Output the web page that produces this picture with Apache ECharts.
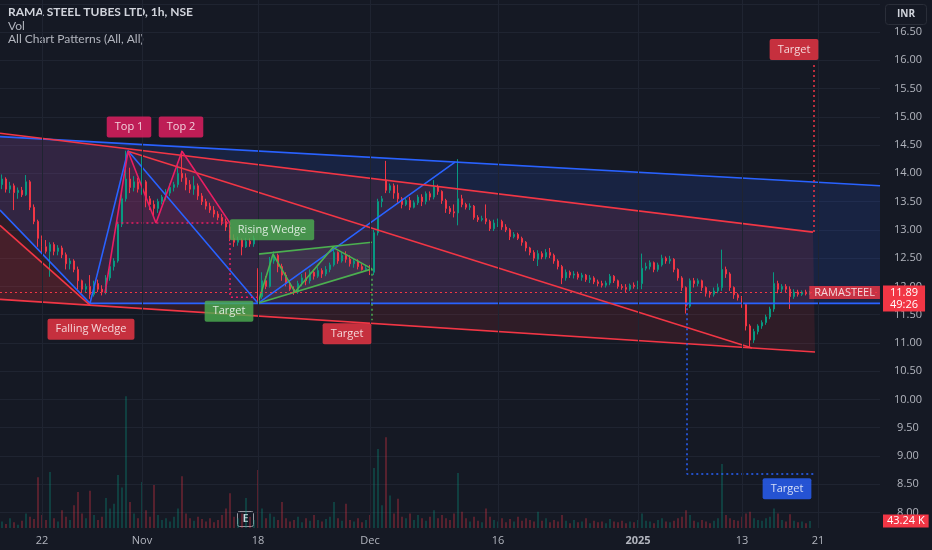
<!DOCTYPE html>
<html>
<head>
<meta charset="utf-8">
<title>RAMA STEEL TUBES LTD, 1h, NSE</title>
<script src="https://cdn.jsdelivr.net/npm/echarts@6/dist/echarts.min.js"></script>
<style>
html, body { margin: 0; padding: 0; background: #151924; }
#chart { width: 932px; height: 550px; }
</style>
</head>
<body>
<div id="chart"></div>
<script>
// one slot = one bar on the time scale (room on the right for the targets)
var SLOTS = 220;

// time scale labels [slot, text]
var dateTicks = [[10, '22'], [35, 'Nov'], [64, '18'], [92, 'Dec'], [124, '16'], [159, '2025'], [185, '13'], [204, '21']];

// bars: [open, close, low, high]
var candles = [
    [13.80,13.90,13.72,13.98],[13.90,13.72,13.66,13.93],[13.72,13.78,13.65,13.85],[13.78,13.66,13.35,13.82],[13.66,13.70,13.55,13.75],
    [13.70,13.62,13.58,13.76],[13.62,13.85,13.60,13.97],[13.85,13.40,13.35,13.88],[13.40,13.15,13.10,13.45],[13.15,12.85,12.70,13.18],
    [12.85,12.70,12.60,12.90],[12.70,12.62,12.58,12.82],[12.62,12.74,12.17,12.78],[12.74,12.62,12.55,12.78],[12.62,12.68,12.55,12.73],
    [12.68,12.56,12.50,12.72],[12.56,12.40,12.30,12.60],[12.40,12.45,12.30,12.50],[12.45,12.30,12.25,12.48],[12.30,12.10,11.95,12.35],
    [12.10,11.95,11.90,12.12],[11.95,12.00,11.90,12.05],[12.00,11.86,11.78,12.20],[11.86,12.05,11.82,12.10],[12.05,11.95,11.90,12.12],
    [11.95,11.90,11.84,12.02],[11.90,12.15,11.86,12.20],[12.15,12.35,12.10,12.42],[12.35,12.45,12.28,12.50],[12.45,13.10,12.42,13.15],
    [13.10,13.55,13.05,13.65],[13.55,13.90,13.50,14.40],[13.90,13.75,13.65,14.10],[13.75,13.85,13.68,13.95],[13.85,13.72,13.66,13.92],
    [13.72,13.85,13.62,14.30],[13.85,13.55,13.40,13.88],[13.55,13.45,13.35,13.60],[13.45,13.38,13.22,13.52],[13.38,13.50,13.30,13.55],
    [13.50,13.58,13.45,13.62],[13.58,13.65,13.52,13.72],[13.65,13.75,13.60,13.82],[13.75,13.80,13.68,13.85],[13.80,14.00,13.75,14.20],
    [14.00,13.92,13.85,14.40],[13.92,13.80,13.70,14.00],[13.80,13.72,13.65,13.88],[13.72,13.78,13.62,13.95],[13.78,13.60,13.53,13.82],
    [13.60,13.50,13.44,13.65],[13.50,13.42,13.36,13.55],[13.42,13.35,13.30,13.48],[13.35,13.28,13.22,13.42],[13.28,13.22,13.17,13.33],
    [13.22,13.15,13.08,13.28],[13.15,13.05,12.98,13.20],[13.05,12.85,12.80,13.10],[12.85,12.78,12.70,12.92],[12.78,12.82,12.72,12.88],
    [12.82,12.70,12.55,12.85],[12.70,12.80,12.68,12.86],[12.80,12.75,12.70,12.85],[12.75,12.85,12.70,12.90],[12.30,11.82,11.72,12.32],
    [11.82,12.10,11.78,12.25],[12.10,12.00,11.95,12.18],[12.00,12.45,11.98,12.52],[12.45,12.55,12.40,12.62],[12.55,12.35,12.25,12.58],
    [12.35,12.20,12.10,12.40],[12.20,12.05,12.00,12.25],[12.05,11.95,11.92,12.10],[11.95,11.90,11.85,12.00],[11.90,12.05,11.87,12.10],
    [12.05,12.15,12.00,12.22],[12.15,12.10,12.02,12.25],[12.10,12.25,12.05,12.30],[12.25,12.18,12.12,12.30],[12.18,12.28,12.15,12.34],
    [12.28,12.22,12.15,12.32],[12.22,12.30,12.18,12.36],[12.30,12.38,12.25,12.42],[12.38,12.60,12.35,12.66],[12.60,12.45,12.40,12.62],
    [12.45,12.55,12.42,12.60],[12.55,12.48,12.42,12.62],[12.48,12.40,12.35,12.55],[12.40,12.45,12.33,12.50],[12.45,12.35,12.30,12.48],
    [12.35,12.30,12.28,12.40],[12.30,12.32,12.27,12.36],[12.32,12.25,12.20,12.38],[12.25,12.95,12.20,13.00],[12.95,13.50,12.90,13.55],
    [13.50,13.55,13.40,13.60],[13.88,13.70,13.65,14.22],[13.70,13.78,13.65,13.82],[13.78,13.65,13.55,13.82],[13.65,13.55,13.48,13.80],
    [13.55,13.45,13.38,13.58],[13.45,13.52,13.42,13.56],[13.52,13.40,13.35,13.58],[13.40,13.48,13.38,13.52],[13.48,13.58,13.44,13.62],
    [13.58,13.50,13.42,13.63],[13.50,13.64,13.45,13.68],[13.64,13.58,13.52,13.68],[13.58,13.76,13.54,13.88],[13.76,13.68,13.62,13.80],
    [13.68,13.52,13.46,13.70],[13.52,13.38,13.30,13.55],[13.38,13.32,13.28,13.42],[13.32,13.30,13.22,13.45],[13.30,13.55,13.08,14.25],
    [13.55,13.45,13.40,13.62],[13.45,13.40,13.36,13.48],[13.40,13.42,13.35,13.47],[13.42,13.22,13.18,13.44],[13.22,13.18,13.14,13.26],
    [13.18,13.20,13.15,13.25],[13.20,13.15,13.10,13.45],[13.15,13.02,12.98,13.18],[13.02,13.12,12.98,13.18],[13.12,13.15,13.05,13.20],
    [13.15,13.05,13.00,13.18],[13.05,13.00,12.96,13.10],[13.00,12.88,12.82,13.03],[12.88,12.92,12.85,12.96],[12.92,12.85,12.82,12.95],
    [12.85,12.78,12.72,12.88],[12.78,12.68,12.62,12.80],[12.68,12.60,12.55,12.70],[12.60,12.50,12.45,12.64],[12.48,12.58,12.36,12.64],
    [12.58,12.52,12.48,12.62],[12.52,12.60,12.48,12.66],[12.60,12.55,12.50,12.68],[12.55,12.45,12.40,12.58],[12.45,12.35,12.30,12.48],
    [12.35,12.15,12.04,12.38],[12.15,12.25,12.10,12.30],[12.25,12.20,12.15,12.28],[12.20,12.22,12.14,12.27],[12.22,12.16,12.12,12.26],
    [12.16,12.20,12.10,12.24],[12.20,12.12,12.08,12.22],[12.12,12.15,12.06,12.20],[12.15,12.08,12.04,12.18],[12.08,12.05,12.00,12.12],
    [12.05,12.02,11.98,12.10],[12.02,12.06,11.98,12.10],[12.06,12.18,12.02,12.22],[12.18,12.10,12.06,12.20],[12.10,12.00,11.96,12.12],
    [12.00,11.98,11.94,12.04],[11.98,11.95,11.90,12.04],[11.95,12.02,11.92,12.05],[12.02,12.00,11.96,12.07],[12.00,12.05,11.95,12.10],
    [12.05,12.32,11.95,12.58],[12.32,12.35,12.28,12.42],[12.35,12.42,12.30,12.46],[12.42,12.30,12.25,12.44],[12.30,12.38,12.26,12.42],
    [12.38,12.50,12.35,12.56],[12.50,12.45,12.40,12.53],[12.45,12.48,12.40,12.54],[12.48,12.30,12.25,12.50],[12.30,12.15,12.10,12.32],
    [12.15,11.98,11.92,12.18],[11.98,11.65,11.52,12.00],[11.65,12.10,11.62,12.14],[12.10,12.05,11.98,12.15],[12.05,12.10,12.00,12.14],
    [12.10,11.98,11.92,12.12],[11.98,11.88,11.82,12.00],[11.88,11.86,11.80,11.92],[11.86,11.92,11.82,11.98],[11.92,11.98,11.88,12.05],
    [11.98,12.30,11.92,12.65],[12.30,12.22,12.15,12.35],[12.22,11.98,11.92,12.25],[11.98,11.85,11.78,12.00],[11.85,11.80,11.75,11.88],
    [11.80,11.68,11.62,11.83],[11.68,11.30,11.22,11.70],[11.30,11.05,10.93,11.33],[11.05,11.20,11.00,11.25],[11.20,11.30,11.15,11.33],
    [11.30,11.36,11.25,11.40],[11.36,11.46,11.32,11.50],[11.46,11.60,11.42,11.64],[11.60,12.05,11.55,12.25],[12.05,11.95,11.88,12.10],
    [11.95,12.00,11.90,12.04],[12.00,11.95,11.90,12.04],[11.95,11.82,11.60,12.00],[11.82,11.90,11.78,11.95],[11.90,11.86,11.82,11.94],
    [11.86,11.90,11.83,11.93],[11.90,11.87,11.84,11.94],[11.87,11.89,11.85,11.92]
];

// volume per bar, thousands
var volumes = [
    40, 25, 60, 35, 20, 45, 90, 70, 55, 314,
    80, 50, 345, 60, 40, 110, 70, 50, 140, 222,
    90, 60, 230, 80, 50, 70, 185, 120, 150, 327,
    250, 814, 160, 90, 60, 284, 110, 70, 265, 80,
    50, 60, 40, 70, 120, 320, 90, 60, 45, 70,
    55, 40, 60, 35, 50, 80, 120, 215, 70, 60,
    90, 185, 70, 50, 358, 120, 60, 90, 70, 50,
    160, 60, 40, 50, 70, 35, 60, 45, 80, 50,
    40, 55, 70, 160, 60, 45, 150, 50, 40, 60,
    35, 50, 80, 370, 487, 140, 561, 200, 90, 180,
    70, 60, 90, 50, 80, 60, 45, 70, 110, 60,
    80, 60, 50, 90, 340, 100, 60, 40, 70, 45,
    35, 120, 70, 50, 40, 60, 35, 55, 40, 70,
    45, 60, 50, 40, 100, 45, 60, 35, 50, 40,
    80, 45, 30, 50, 35, 40, 60, 30, 45, 35,
    40, 30, 55, 40, 35, 45, 30, 40, 35, 50,
    90, 45, 40, 30, 50, 60, 40, 35, 45, 60,
    70, 110, 80, 45, 35, 50, 40, 30, 45, 60,
    395, 80, 60, 50, 45, 70, 90, 100, 60, 50,
    45, 60, 70, 120, 90, 50, 40, 85, 45, 35,
    40, 30, 43.24
];

var lastPrice = 11.89;
var lastVolume = 43.24;
var countdown = '49:26';

// pattern lines, [slot, price]
var channelTop = [[-0.5, 14.65], [219.5, 13.78]];
var channelBottom = [[22, 11.70], [219.5, 11.70]];
var channelZigzag = [[-0.5, 13.35], [22, 11.70], [31.5, 14.40], [64, 11.70], [113.25, 14.20]];
var wedgeTop = [[-0.5, 14.71], [202.75, 12.96]];
var wedgeBottom = [[-0.5, 11.77], [203.25, 10.84]];
var wedgeInner = [[31.5, 14.39], [187.5, 10.91]];
var smallWedgeTop = [[-0.5, 13.08], [22, 11.67]];
var doubleTop = [[25.75, 11.88], [31.5, 14.39], [38.5, 13.12], [45, 14.39], [57, 13.12]];
var neckline = [[28.6, 13.12], [57, 13.12]];
var doubleTopTarget = [[57, 13.12], [57, 11.81], [64, 11.81]];
var risingTop = [[64, 12.57], [92.5, 12.78]];
var risingBottom = [[64, 11.70], [92.5, 12.31]];
var risingZigzag = [[64, 11.70], [67.75, 12.57], [73.25, 11.90], [82.75, 12.69], [92.5, 12.31]];
var risingTarget = [[92.5, 12.31], [92.5, 11.40]];
var channelTarget = [[171.25, 11.70], [171.25, 8.68], [203.5, 8.68]];
var wedgeTarget = [[203, 12.96], [203, 15.97]];

// shaded areas, [slot, price] vertices
var channelArea = [[-0.5, 14.65], [219.5, 13.78], [219.5, 11.70], [22, 11.70], [-0.5, 13.35]];
var wedgeArea = [[-0.5, 14.71], [202.75, 12.96], [203.25, 10.84], [-0.5, 11.77]];
var smallWedgeArea = [[-0.5, 13.08], [22, 11.67], [-0.5, 11.77]];
var doubleTopArea = [[28.6, 13.12], [31.5, 14.39], [38.5, 13.12], [45, 14.39], [57, 13.12]];
var risingArea = [[64, 12.57], [92.5, 12.78], [92.5, 12.31], [64, 11.70]];

// tags [slot, price, text]
var redTags = [[198, 16.19, 'Target'], [86.25, 11.16, 'Target'], [22.25, 11.24, 'Falling Wedge']];
var pinkTags = [[31.75, 14.82, 'Top 1'], [44.75, 14.82, 'Top 2']];
var greenTags = [[67.5, 13.00, 'Rising Wedge'], [56.75, 11.56, 'Target']];
var blueTags = [[196.25, 8.42, 'Target']];

var BLUE = '#2962ff', RED = '#f23645', GREEN = '#4caf50', PINK = '#e91e63';
var UP = '#089981', DOWN = '#f23645';
var GRIDLINE = '#1f2431', TEXT = '#b2b5be';
var FONT = '"Open Sans", sans-serif';
var TITLE_FONT = 'Lato, "Open Sans", sans-serif';

var categories = [];
for (var i = 0; i < SLOTS; i++) {
    categories.push(String(i));
}
var tickMap = {};
dateTicks.forEach(function (d) { tickMap[d[0]] = d[1]; });

function lineSeries(points, color, dotted) {
    return {
        type: 'line', xAxisIndex: 1, yAxisIndex: 0, data: points,
        symbol: 'none', silent: true, z: 4,
        lineStyle: { color: color, width: dotted ? 1.5 : 1.6, type: dotted ? [2, 3] : 'solid' }
    };
}

function areaSeries(points, color) {
    return {
        type: 'custom', xAxisIndex: 1, yAxisIndex: 0, silent: true, z: 2,
        data: [[0, 10]],
        renderItem: function (params, api) {
            return {
                type: 'polygon',
                shape: { points: points.map(function (p) { return api.coord(p); }) },
                style: { fill: color }
            };
        }
    };
}

function tagSeries(items, color) {
    return {
        type: 'scatter', xAxisIndex: 1, yAxisIndex: 0, silent: true, z: 6,
        symbolSize: 0.1, itemStyle: { color: 'transparent' },
        data: items.map(function (d) { return { value: [d[0], d[1]], name: d[2] }; }),
        label: {
            show: true, position: 'inside', formatter: '{b}', color: '#ffffff',
            fontSize: 11, fontFamily: FONT, backgroundColor: color,
            padding: [5, 8], borderRadius: 2
        }
    };
}

var volData = volumes.map(function (v, i) {
    var c = candles[i];
    return { value: v, itemStyle: { color: c[1] >= c[0] ? 'rgba(8,153,129,0.4)' : 'rgba(242,54,69,0.4)' } };
});

var gridLines = dateTicks.map(function (d) {
    return { xAxis: d[0], label: { show: false } };
});

var chart = echarts.init(document.getElementById('chart'));

var option = {
    backgroundColor: '#151924',
    animation: false,
    grid: [
        { left: 0, right: 52, top: 3.75, bottom: 37.5, outerBoundsMode: 'none' },
        { left: 0, right: 52, top: 0, bottom: 22, outerBoundsMode: 'none' }
    ],
    xAxis: [
        { type: 'category', gridIndex: 0, data: categories, show: false },
        { type: 'value', gridIndex: 0, min: -0.5, max: SLOTS - 0.5, show: false, position: 'top' },
        {
            type: 'category', gridIndex: 1, data: categories,
            axisLine: { show: false }, axisTick: { show: false }, splitLine: { show: false },
            axisLabel: {
                color: TEXT, fontSize: 11, fontFamily: FONT, margin: 7,
                interval: function (index) { return tickMap[index] !== undefined; },
                formatter: function (value, index) {
                    var t = tickMap[index];
                    if (t === undefined) return '';
                    return t === '2025' ? '{b|2025}' : t;
                },
                rich: { b: { fontWeight: 'bold', color: TEXT, fontSize: 11, fontFamily: FONT } }
            }
        }
    ],
    yAxis: [
        {
            type: 'value', gridIndex: 0, position: 'right', min: 8, max: 17, interval: 0.5,
            axisLine: { show: false }, axisTick: { show: false },
            splitLine: { lineStyle: { color: GRIDLINE, width: 1 } },
            axisLabel: {
                color: TEXT, fontSize: 11, fontFamily: FONT, align: 'center', margin: 28,
                formatter: function (v) { return v >= 17 ? '' : v.toFixed(2); }
            }
        },
        { type: 'value', gridIndex: 1, min: 0, max: 3260, show: false }
    ],
    series: [
        {
            type: 'bar', xAxisIndex: 2, yAxisIndex: 1, data: volData, barWidth: '38%', z: 1, silent: true,
            markLine: {
                silent: true, symbol: ['none', 'none'],
                lineStyle: { color: GRIDLINE, width: 1, type: 'solid' },
                data: gridLines
            }
        },
        {
            // last volume tag on the scale
            type: 'line', xAxisIndex: 2, yAxisIndex: 1, data: [], silent: true, z: 6,
            markLine: {
                silent: true, symbol: ['none', 'none'],
                lineStyle: { color: 'rgba(0,0,0,0)', width: 0 },
                data: [{ yAxis: lastVolume }],
                label: {
                    show: true, position: 'end', distance: 3, formatter: lastVolume.toFixed(2) + ' K',
                    color: '#fff', backgroundColor: RED, fontSize: 11, fontFamily: FONT, padding: [1, 4]
                }
            }
        },
        areaSeries(channelArea, 'rgba(41,98,255,0.14)'),
        areaSeries(wedgeArea, 'rgba(242,54,69,0.12)'),
        areaSeries(smallWedgeArea, 'rgba(242,54,69,0.12)'),
        areaSeries(doubleTopArea, 'rgba(233,30,99,0.12)'),
        areaSeries(risingArea, 'rgba(200,205,215,0.08)'),
        {
            type: 'candlestick', xAxisIndex: 0, yAxisIndex: 0, data: candles, z: 3, silent: true,
            barWidth: '60%',
            itemStyle: { color: UP, color0: DOWN, borderColor: UP, borderColor0: DOWN, borderWidth: 1 },
            markLine: {
                silent: true, symbol: ['none', 'none'],
                data: [{ yAxis: lastPrice }],
                lineStyle: { color: RED, width: 1, type: [2, 3] },
                label: {
                    position: 'end', distance: 3, formatter: lastPrice.toFixed(2) + '\n' + countdown,
                    color: '#fff', backgroundColor: RED, fontSize: 11, fontFamily: FONT,
                    lineHeight: 12, padding: [1, 7], offset: [0, 6]
                }
            }
        },
        lineSeries(channelTop, BLUE),
        lineSeries(channelBottom, BLUE),
        lineSeries(channelZigzag, BLUE),
        lineSeries(wedgeTop, RED),
        lineSeries(wedgeBottom, RED),
        lineSeries(wedgeInner, RED),
        lineSeries(smallWedgeTop, RED),
        lineSeries(doubleTop, PINK),
        lineSeries(neckline, PINK, true),
        lineSeries(doubleTopTarget, PINK, true),
        lineSeries(risingTop, GREEN),
        lineSeries(risingBottom, GREEN),
        lineSeries(risingZigzag, GREEN),
        lineSeries(risingTarget, GREEN, true),
        lineSeries(channelTarget, BLUE, true),
        lineSeries(wedgeTarget, RED, true),
        tagSeries(redTags, RED),
        tagSeries(pinkTags, PINK),
        tagSeries(greenTags, GREEN),
        tagSeries(blueTags, BLUE),
        {
            type: 'scatter', xAxisIndex: 1, yAxisIndex: 0, silent: true, z: 6,
            symbolSize: 0.1, itemStyle: { color: 'transparent' },
            data: [{ value: [SLOTS - 0.5, lastPrice], name: 'RAMASTEEL' }],
            label: {
                show: true, position: 'left', distance: 0, formatter: '{b}', color: '#fff',
                fontSize: 11, fontFamily: FONT, backgroundColor: RED, padding: [1, 5]
            }
        }
    ],
    graphic: [
        { type: 'text', left: 8, top: 6, style: { text: 'RAMA STEEL TUBES LTD, 1h, NSE', fill: '#d1d4dc', font: 'bold 12px ' + TITLE_FONT } },
        { type: 'text', left: 8, top: 20, style: { text: 'Vol', fill: TEXT, font: '12px ' + TITLE_FONT } },
        { type: 'text', left: 8, top: 33, style: { text: 'All Chart Patterns (All, All)', fill: TEXT, font: '12px ' + TITLE_FONT } },
        {
            type: 'group', left: 885, top: 4,
            children: [
                { type: 'rect', shape: { x: 0, y: 0, width: 41, height: 20, r: 3 }, style: { fill: '#151924', stroke: '#2a2e39', lineWidth: 1 } },
                { type: 'text', style: { text: 'INR', x: 20.5, y: 10, align: 'center', verticalAlign: 'middle', fill: '#d1d4dc', font: 'bold 10px ' + FONT } }
            ]
        },
        {
            type: 'group', left: 237, top: 511,
            children: [
                { type: 'rect', shape: { x: 0, y: 0, width: 16, height: 15, r: 2 }, style: { fill: '#151924', stroke: '#9598a1', lineWidth: 1 } },
                { type: 'text', style: { text: 'E', x: 8, y: 7.5, align: 'center', verticalAlign: 'middle', fill: '#d1d4dc', font: 'bold 10px ' + FONT } }
            ]
        }
    ]
};

chart.setOption(option);
</script>
</body>
</html>
